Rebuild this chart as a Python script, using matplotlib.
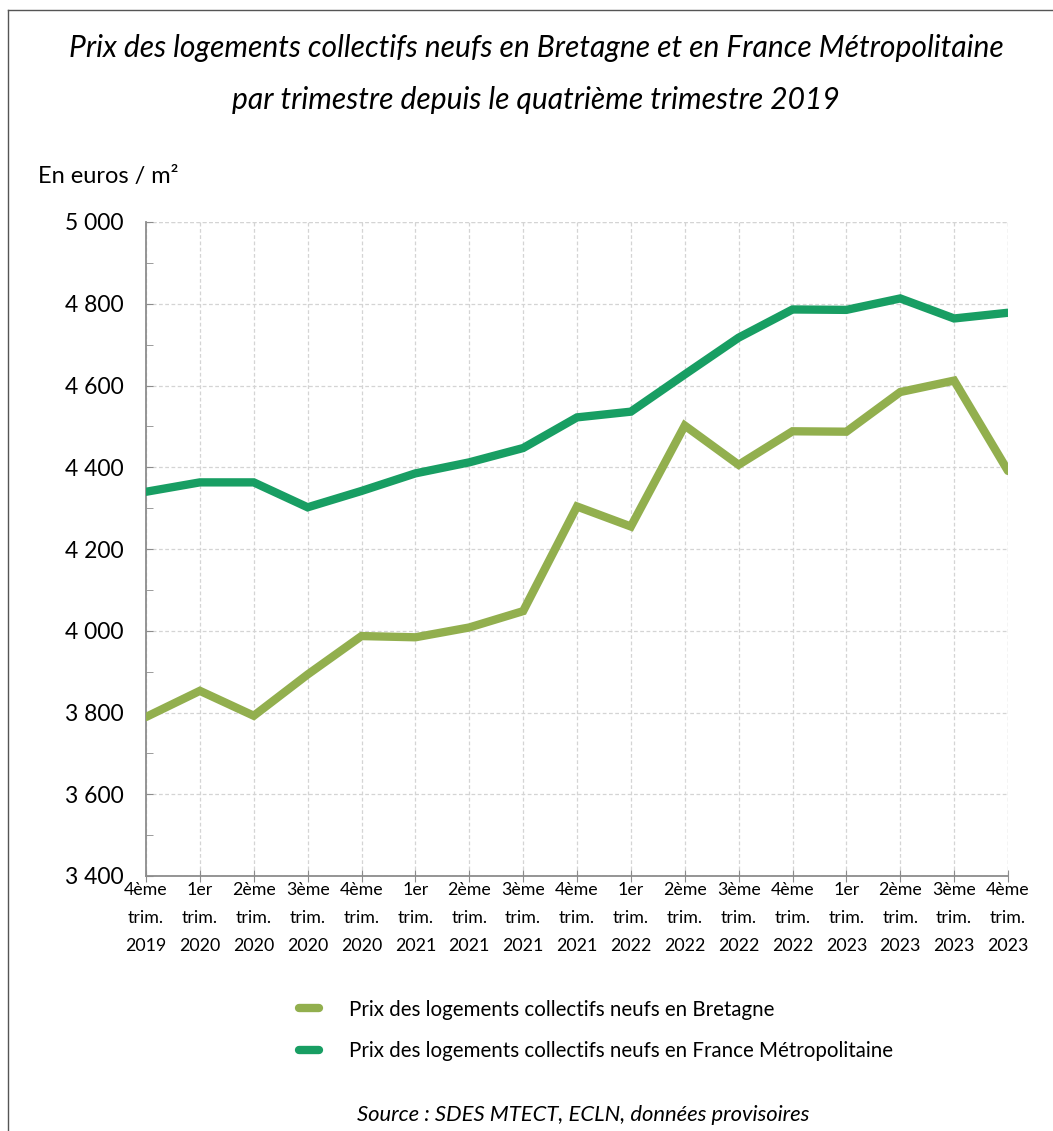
import matplotlib
matplotlib.use("Agg")
from matplotlib import pyplot as plt
from matplotlib.ticker import FuncFormatter, MultipleLocator
from matplotlib.lines import Line2D

plt.rcParams['font.family'] = ['Lato', 'DejaVu Sans']

trimestres = ["4ème\ntrim.\n2019", "1er\ntrim.\n2020", "2ème\ntrim.\n2020", "3ème\ntrim.\n2020",
              "4ème\ntrim.\n2020", "1er\ntrim.\n2021", "2ème\ntrim.\n2021", "3ème\ntrim.\n2021",
              "4ème\ntrim.\n2021", "1er\ntrim.\n2022", "2ème\ntrim.\n2022", "3ème\ntrim.\n2022",
              "4ème\ntrim.\n2022", "1er\ntrim.\n2023", "2ème\ntrim.\n2023", "3ème\ntrim.\n2023",
              "4ème\ntrim.\n2023"]
prix_bretagne = [3789, 3853, 3792, 3893, 3987, 3984, 4008, 4048, 4304, 4255,
                 4502, 4406, 4488, 4487, 4584, 4612, 4391]
prix_france = [4340, 4363, 4363, 4302, 4342, 4385, 4412, 4447, 4522, 4536,
               4627, 4717, 4786, 4785, 4813, 4764, 4778]

vert_clair = "#92AF4E"
vert_fonce = "#189E63"
gris = "#8C8C8C"
gris_grille = "#D4D4D4"

fig = plt.figure(figsize=(10.53, 11.31), dpi=100)
ax = fig.add_axes([146 / 1053, 1 - 876 / 1131, (1008 - 146) / 1053, (876 - 222) / 1131])

x = list(range(len(trimestres)))
ax.plot(x, prix_bretagne, color=vert_clair, linewidth=6, solid_capstyle="round",
        solid_joinstyle="miter", zorder=3)
ax.plot(x, prix_france, color=vert_fonce, linewidth=6, solid_capstyle="round",
        solid_joinstyle="miter", zorder=3)

ax.set_xlim(0, len(trimestres) - 1)
ax.set_ylim(3400, 5000)
ax.yaxis.set_major_locator(MultipleLocator(200))
ax.yaxis.set_minor_locator(MultipleLocator(100))
ax.yaxis.set_major_formatter(FuncFormatter(lambda v, p: "{:,.0f}".format(v).replace(",", " ")))
ax.set_xticks(x)
ax.set_xticklabels(trimestres, fontsize=12.8, linespacing=1.95)

ax.grid(True, which="major", color=gris_grille, linestyle=(0, (3, 2)), linewidth=0.9, zorder=0)
for s in ["top", "right"]:
    ax.spines[s].set_visible(False)
for s in ["left", "bottom"]:
    ax.spines[s].set_color(gris)
    ax.spines[s].set_linewidth(1.3)

ax.tick_params(axis="y", which="both", direction="in", length=5, color=gris, labelsize=16.5, pad=16)
ax.tick_params(axis="x", direction="inout", length=8, color=gris, pad=0)

# ligne du haut et grille de droite
ax.axhline(5000, color=gris_grille, linestyle=(0, (3, 2)), linewidth=0.9, zorder=0)
ax.axvline(len(trimestres) - 1, color=gris_grille, linestyle=(0, (3, 2)), linewidth=0.9, zorder=0)

fig.text(0.509, 1 - 48 / 1131, "Prix des logements collectifs neufs en Bretagne et en France Métropolitaine",
         ha="center", va="center", fontsize=21.6, style="italic")
fig.text(0.509, 1 - 100 / 1131, "par trimestre depuis le quatrième trimestre 2019",
         ha="center", va="center", fontsize=21.6, style="italic")
fig.text(38 / 1053, 1 - 176 / 1131, "En euros / m²", ha="left", va="center", fontsize=17)

handles = [Line2D([], [], color=vert_clair, linewidth=6, solid_capstyle="round"),
           Line2D([], [], color=vert_fonce, linewidth=6, solid_capstyle="round")]
fig.legend(handles, ["Prix des logements collectifs neufs en Bretagne",
                     "Prix des logements collectifs neufs en France Métropolitaine"],
           loc="upper left", bbox_to_anchor=(280 / 1053, 1 - 981 / 1131), frameon=False,
           fontsize=14.8, handlelength=1.0, handletextpad=1.45, labelspacing=1.05)

fig.text(583 / 1053, 1 - 1115 / 1131, "Source : SDES MTECT, ECLN, données provisoires",
         ha="center", va="center", fontsize=15.8, style="italic")

# cadre
fig.add_artist(Line2D([8 / 1053, 1], [1 - 10 / 1131, 1 - 10 / 1131], color="#555555", linewidth=1))
fig.add_artist(Line2D([8 / 1053, 8 / 1053], [0, 1 - 10 / 1131], color="#555555", linewidth=1))

fig.savefig("out.png", dpi=100, facecolor="white")
